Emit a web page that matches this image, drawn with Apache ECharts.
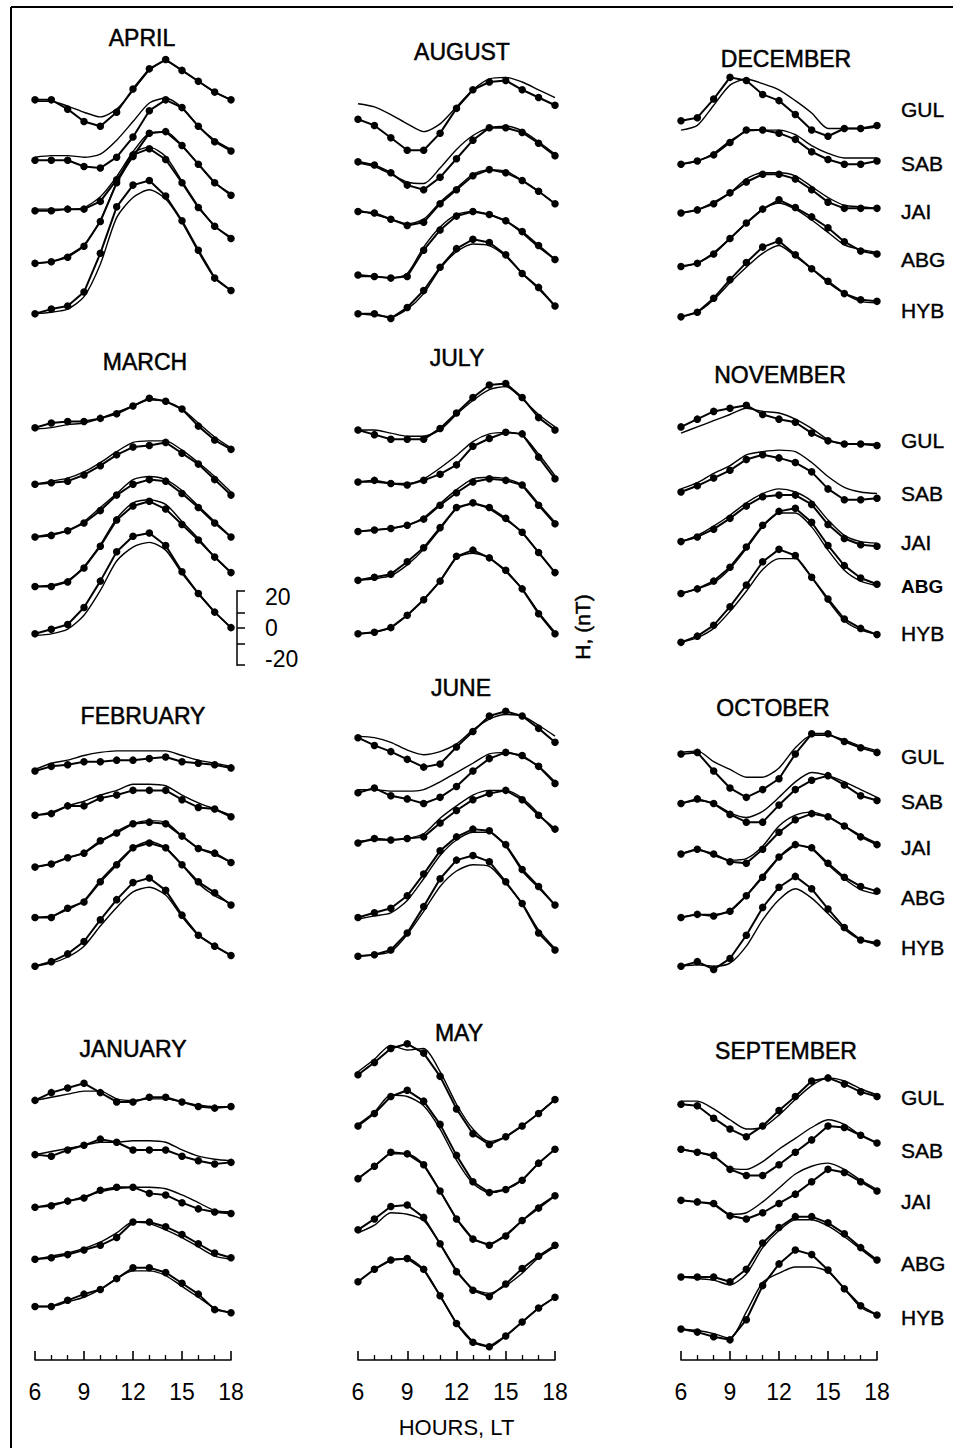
<!DOCTYPE html>
<html><head><meta charset="utf-8">
<script src="https://cdn.jsdelivr.net/npm/echarts@6/dist/echarts.min.js"></script>
<style>html,body{margin:0;padding:0;background:#fff}#c{width:953px;height:1448px}</style>
</head><body><div id="c"></div><script>
// Local time hours
const hours = [6,7,8,9,10,11,12,13,14,15,16,17,18];
const stations = ['GUL','SAB','JAI','ABG','HYB'];
const hourTicks = [6,9,12,15,18];

// Each month: vertical offset (nT) of each station trace, observed deflections (nT, dots) and model (thin line)
// Station order: GUL, SAB, JAI, ABG, HYB
const aprilOffset = [813, 774, 741.5, 707.5, 675];
const aprilObs = [
  [0,0,-6,-14,-17,-8,7,20,26,19,12,5,0],
  [0,0,0,-4,-5,2,15,32,39,34,22,12,6],
  [0,0,1,1,6,20,35,50,51,42,30,18,10],
  [0,1,4,11,27,52,70,74,67,52,36,24,16],
  [0,3,5,14,39,69,83,86,76,60,41,23,15]];
const aprilModel = [
  [-1,-1,-4,-8,-11,-6,6,19,25,19,12,5,0],
  [2,3,3,2,4,13,25,37,40,34,22,13,7],
  [1,1,1,2,9,22,38,50,51,42,30,18,11],
  [0,1,5,12,28,52,71,75,69,53,37,24,17],
  [0,1,3,11,32,62,75,80,74,59,40,23,15]];

const augustOffset = [800.5, 773, 741, 700, 675];
const augustObs = [
  [0,-4,-12,-20,-20,-9,7,19,24,25,19,14,9],
  [0,-2,-7,-15,-18,-10,2,14,22,22,19,12,4],
  [0,-1,-5,-9,-7,5,14,23,27,25,20,13,5],
  [0,-1,-2,-1,16,29,38,41,39,35,28,19,10],
  [0,0,-3,4,15,30,42,48,46,38,26,17,5]];
const augustModel = [
  [10,8,3,-3,-8,-3,8,19,26,27,24,19,14],
  [-1,-3,-8,-13,-14,-4,8,17,22,23,20,13,5],
  [1,-2,-5,-8,-5,6,15,24,27,26,20,13,5],
  [-1,-1,-2,1,18,31,39,41,39,35,27,18,10],
  [0,-1,-2,3,13,29,40,45,44,37,26,16,5]];

const decemberOffset = [799.5, 771.5, 740, 705.5, 673];
const decemberObs = [
  [0,2,14,28,26,17,13,4,-6,-10,-5,-5,-3],
  [0,2,6,14,22,22,20,16,8,3,0,0,2],
  [0,2,6,13,20,25,25,22,15,7,3,3,3],
  [0,2,8,18,28,37,43,38,32,25,16,10,8],
  [0,3,12,24,35,45,49,40,31,23,15,11,10]];
const decemberModel = [
  [-6,-3,10,23,27,24,20,13,5,-5,-5,-5,-4],
  [0,2,7,15,21,22,22,19,12,7,4,4,4],
  [0,2,7,13,22,26,26,24,17,10,5,4,3],
  [0,2,9,18,28,37,41,37,30,22,14,11,9],
  [0,3,11,22,32,41,46,39,31,22,15,10,9]];

const marchOffset = [601.5, 565, 531, 499, 468.5];
const marchObs = [
  [0,3,4,4,6,9,14,19,17,12,1,-8,-14],
  [0,1,2,6,12,19,24,25,27,20,13,3,-7],
  [0,1,4,9,17,27,34,37,36,28,19,9,0],
  [0,0,3,12,26,43,52,55,50,40,30,19,9],
  [0,3,6,17,34,53,63,65,57,40,26,14,4]];
const marchModel = [
  [-1,0,2,3,6,10,14,18,17,12,3,-6,-13],
  [0,2,4,8,14,21,27,28,28,22,14,5,-5],
  [0,2,4,10,19,28,37,39,37,30,20,10,0],
  [0,1,4,13,27,44,54,56,53,42,31,19,9],
  [-1,0,3,12,28,47,56,59,54,39,26,14,4]];

const julyOffset = [600, 566.5, 534.5, 503, 468.5];
const julyObs = [
  [0,-3,-6,-6,-6,1,11,21,29,30,21,8,0],
  [0,1,-1,-2,1,5,11,23,28,32,31,16,2],
  [0,1,2,4,8,17,25,32,34,33,30,17,5],
  [0,2,4,12,21,34,47,50,47,40,31,18,5],
  [0,1,4,12,22,34,50,54,49,41,29,13,0]];
const julyModel = [
  [0,0,-2,-4,-4,0,10,19,26,28,20,10,2],
  [0,0,-1,-1,2,9,17,26,31,32,30,18,4],
  [0,1,2,4,9,18,27,34,35,34,30,18,6],
  [0,1,3,10,20,33,46,49,46,39,31,18,5],
  [0,1,4,12,22,34,49,52,49,40,29,14,1]];

const novemberOffset = [602, 560, 528, 494.5, 463];
const novemberObs = [
  [0,5,10,12,14,8,5,3,-4,-9,-11,-11,-12],
  [0,4,9,14,21,24,22,19,13,2,-5,-5,-4],
  [0,3,8,15,23,29,30,30,24,11,2,-2,-3],
  [0,3,8,17,30,44,53,55,46,31,18,10,6],
  [0,4,11,23,37,52,60,56,42,28,15,9,5]];
const novemberModel = [
  [-4,0,4,8,12,10,9,5,-1,-8,-11,-11,-11],
  [2,6,12,17,24,26,27,26,19,10,3,0,-1],
  [0,4,10,17,25,31,34,32,26,14,4,0,-1],
  [0,3,7,16,29,43,52,52,43,28,15,8,5],
  [0,3,9,20,33,47,54,54,42,27,14,8,5]];

const februaryOffset = [380, 351.5, 318, 285.5, 254];
const februaryObs = [
  [0,3,4,6,6,7,7,8,9,6,5,4,2],
  [0,1,6,6,11,13,16,16,16,10,5,4,-1],
  [0,2,6,9,17,22,28,29,28,20,12,9,3],
  [0,0,6,10,23,34,45,48,45,34,23,16,8],
  [0,3,8,16,30,43,54,57,49,33,20,13,7]];
const februaryModel = [
  [1,5,7,10,12,13,13,13,13,10,7,5,3],
  [0,2,6,9,13,16,20,20,19,13,8,4,0],
  [0,2,6,9,16,23,28,30,29,20,12,8,3],
  [0,1,5,11,24,35,45,49,45,34,22,14,9],
  [0,2,6,13,26,38,48,51,46,32,20,13,7]];

const juneOffset = [401.5, 366, 333.5, 285.5, 260.5];
const juneObs = [
  [0,-5,-9,-14,-19,-17,-6,4,14,17,14,6,-3],
  [0,3,-2,-4,-7,-3,4,14,22,26,24,17,6],
  [0,3,2,3,4,13,21,28,32,34,28,18,9],
  [0,3,6,14,28,43,52,57,56,47,31,20,8],
  [0,1,4,15,32,50,62,65,61,48,34,15,4]];
const juneModel = [
  [1,0,-3,-8,-11,-9,-4,5,12,15,14,8,1],
  [2,2,1,1,2,7,13,19,25,26,23,17,7],
  [1,2,2,3,6,16,24,31,34,34,29,19,7],
  [-1,1,3,11,25,40,50,55,55,46,30,19,8],
  [0,1,3,14,29,45,55,59,58,47,34,17,5]];

const octoberOffset = [391, 359, 326.5, 285.5, 254];
const octoberObs = [
  [0,1,-11,-22,-28,-23,-16,0,13,13,8,4,1],
  [0,3,0,-7,-12,-12,-1,9,15,18,12,5,2],
  [0,3,0,-5,-6,3,14,22,26,24,18,11,6],
  [0,2,1,4,14,26,39,47,45,35,26,20,17],
  [0,3,-2,5,20,38,51,58,50,37,25,17,15]];
const octoberModel = [
  [1,2,-5,-10,-15,-15,-9,4,12,12,9,5,2],
  [0,2,0,-6,-9,-5,4,14,20,18,14,9,4],
  [0,3,-1,-4,-3,5,18,25,27,24,18,12,7],
  [0,2,2,4,14,27,39,47,44,34,25,18,15],
  [0,1,0,2,13,30,43,50,44,34,24,17,14]];

const januaryOffset = [167.5, 132.5, 98.5, 65, 34.5];
const januaryObs = [
  [0,5,8,11,5,-1,-1,2,2,-1,-4,-5,-4],
  [0,-1,3,6,10,8,3,3,3,-1,-4,-6,-5],
  [0,1,4,6,11,13,13,9,8,3,-1,-3,-4],
  [0,1,3,6,9,14,24,24,21,16,10,4,1],
  [0,0,4,8,11,18,25,25,22,15,8,-2,-4]];
const januaryModel = [
  [0,2,4,6,6,1,0,1,1,-1,-3,-4,-4],
  [0,2,4,6,8,8,9,9,8,3,-1,-3,-4],
  [0,2,4,7,10,12,13,13,12,8,3,-2,-3],
  [0,2,4,7,11,17,24,23,19,14,8,2,0],
  [0,0,3,6,11,18,23,23,20,13,6,-1,-4]];

const mayOffset = [184, 151, 117, 84, 50.5];
const mayObs = [
  [0,8,17,20,14,-1,-22,-38,-45,-40,-33,-25,-16],
  [0,8,19,23,16,1,-19,-36,-43,-41,-35,-24,-15],
  [0,8,17,16,9,-8,-26,-39,-43,-37,-27,-19,-11],
  [0,7,15,16,8,-9,-27,-39,-43,-35,-25,-17,-10],
  [0,8,14,15,8,-9,-27,-39,-42,-35,-26,-17,-10]];
const mayModel = [
  [2,10,19,16,17,2,-19,-35,-43,-40,-33,-25,-16],
  [1,9,20,19,13,-2,-22,-37,-43,-41,-35,-24,-15],
  [0,8,16,16,9,-8,-26,-39,-42,-36,-27,-18,-11],
  [-2,3,11,10,6,-9,-26,-38,-41,-36,-28,-18,-11],
  [0,8,14,15,8,-9,-27,-39,-42,-35,-26,-17,-10]];

const septemberOffset = [165, 136, 103, 53.5, 20];
const septemberObs = [
  [0,-1,-9,-16,-21,-14,-4,5,15,17,13,8,5],
  [0,-2,-4,-13,-17,-17,-10,-2,6,15,14,9,4],
  [0,-1,-2,-10,-12,-8,-2,4,12,20,18,12,6],
  [0,0,0,-3,5,22,32,39,39,35,28,19,11],
  [0,-2,-5,-7,6,28,42,51,48,38,26,15,9]];
const septemberModel = [
  [2,2,-3,-10,-16,-15,-7,3,12,17,15,10,6],
  [0,-2,-5,-12,-13,-8,0,7,14,19,16,9,4],
  [0,-1,-3,-9,-8,-1,8,17,22,24,20,13,7],
  [0,-1,-2,-5,2,19,30,37,37,33,26,18,10],
  [0,-1,-3,-6,11,30,36,40,40,37,26,14,9]];

const panels = [
  {name:'APRIL', col:0, off:aprilOffset, obs:aprilObs, mod:aprilModel, tx:142, ty:38},
  {name:'AUGUST', col:1, off:augustOffset, obs:augustObs, mod:augustModel, tx:462, ty:52},
  {name:'DECEMBER', col:2, off:decemberOffset, obs:decemberObs, mod:decemberModel, tx:786, ty:59},
  {name:'MARCH', col:0, off:marchOffset, obs:marchObs, mod:marchModel, tx:145, ty:362},
  {name:'JULY', col:1, off:julyOffset, obs:julyObs, mod:julyModel, tx:457, ty:358},
  {name:'NOVEMBER', col:2, off:novemberOffset, obs:novemberObs, mod:novemberModel, tx:780, ty:375},
  {name:'FEBRUARY', col:0, off:februaryOffset, obs:februaryObs, mod:februaryModel, tx:143, ty:716},
  {name:'JUNE', col:1, off:juneOffset, obs:juneObs, mod:juneModel, tx:461, ty:688},
  {name:'OCTOBER', col:2, off:octoberOffset, obs:octoberObs, mod:octoberModel, tx:773, ty:708},
  {name:'JANUARY', col:0, off:januaryOffset, obs:januaryObs, mod:januaryModel, tx:133, ty:1049},
  {name:'MAY', col:1, off:mayOffset, obs:mayObs, mod:mayModel, tx:459, ty:1033},
  {name:'SEPTEMBER', col:2, off:septemberOffset, obs:septemberObs, mod:septemberModel, tx:786, ty:1051}
];
const stationLabelY = [
  [109,163,211,259,310],
  [440,493,542,586,633],
  [756,801,847,897,947],
  [1097,1150,1201,1263,1317]
];

const FONT = '"Liberation Sans", Arial, Helvetica, sans-serif';
const chart = echarts.init(document.getElementById('c'), null, {renderer:'svg'});

const colLeft = [35, 358, 681];
const colWidth = [196, 197, 196];
const grids = [], xAxes = [], yAxes = [], series = [];
for (let c = 0; c < 3; c++) {
  grids.push({left: colLeft[c], width: colWidth[c], top: 27, height: 1333, outerBoundsMode: 'none', containLabel: false});
  xAxes.push({
    gridIndex: c, type: 'value', min: 6, max: 18, interval: 3,
    axisLine: {lineStyle: {color: '#000', width: 1.6}},
    axisTick: {inside: true, length: 9, lineStyle: {color: '#000', width: 1.6}},
    minorTick: {show: true, splitNumber: 3, length: 5, lineStyle: {color: '#000', width: 1.3}},
    axisLabel: {color: '#000', fontSize: 23, fontFamily: FONT, margin: 20},
    splitLine: {show: false},
    name: c === 1 ? 'HOURS, LT' : '', nameLocation: 'middle', nameGap: 56,
    nameTextStyle: {color: '#000', fontSize: 22, fontFamily: FONT}
  });
  yAxes.push({gridIndex: c, type: 'value', min: 0, max: 860, show: false});
}
// scale bar (nT)
grids.push({left: 237, width: 20, top: 590.8, height: 74.4, outerBoundsMode: 'none', containLabel: false});
xAxes.push({gridIndex: 3, type: 'value', show: false, min: 0, max: 1});
yAxes.push({
  gridIndex: 3, type: 'value', min: -24, max: 24, position: 'left',
  axisLine: {show: true, lineStyle: {color: '#000', width: 1.5}},
  axisTick: {show: true, inside: true, length: 8, customValues: [-24, -10, 0, 10, 24], lineStyle: {color: '#000', width: 1.5}},
  axisLabel: {show: true, inside: true, margin: 28, customValues: [-20, 0, 20], color: '#000', fontSize: 23, fontFamily: FONT},
  splitLine: {show: false}
});

panels.forEach(p => {
  for (let s = 0; s < 5; s++) {
    series.push({
      type: 'line', xAxisIndex: p.col, yAxisIndex: p.col, smooth: 0.25,
      data: hours.map((h, i) => [h, p.off[s] + p.mod[s][i]]),
      symbol: 'none', lineStyle: {color: '#000', width: 1.4}, silent: true, z: 2
    });
    series.push({
      type: 'line', xAxisIndex: p.col, yAxisIndex: p.col,
      data: hours.map((h, i) => [h, p.off[s] + p.obs[s][i]]),
      symbol: 'circle', symbolSize: 7.5, itemStyle: {color: '#000'},
      lineStyle: {color: '#000', width: 2}, silent: true, z: 3
    });
  }
});

const TXT = {fill: '#000', stroke: '#000', lineWidth: 0.5, align: 'center', verticalAlign: 'middle'};
const graphic = [
  {type: 'line', shape: {x1: 11, y1: 7, x2: 11, y2: 1448}, style: {stroke: '#000', lineWidth: 2}},
  {type: 'line', shape: {x1: 11, y1: 7, x2: 953, y2: 7}, style: {stroke: '#000', lineWidth: 2}},
  {type: 'text', x: 582, y: 627, rotation: Math.PI / 2,
   style: Object.assign({text: 'H, (nT)', font: '21px ' + FONT}, TXT)}
];
panels.forEach(p => {
  graphic.push({type: 'text', x: p.tx, y: p.ty,
    style: Object.assign({text: p.name, font: '23px ' + FONT}, TXT)});
});
stationLabelY.forEach((row, r) => {
  row.forEach((y, s) => {
    const bold = (r === 1 && s === 3);
    graphic.push({type: 'text', x: 901, y: y,
      style: Object.assign({}, TXT, {text: stations[s], font: (bold ? 'bold 19px ' : '21px ') + FONT, align: 'left', lineWidth: bold ? 0 : 0.4})});
  });
});

chart.setOption({
  animation: false,
  backgroundColor: '#fff',
  grid: grids, xAxis: xAxes, yAxis: yAxes, series: series, graphic: graphic
});
</script></body></html>
